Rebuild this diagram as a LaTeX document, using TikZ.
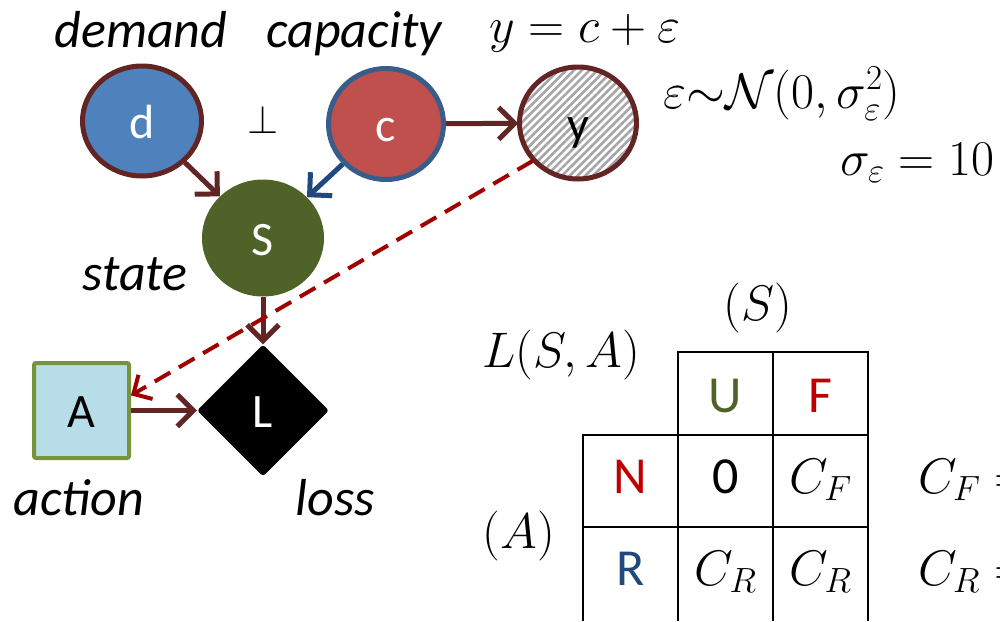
\RequirePackage{fix-cm}
\documentclass[tikz,border=0pt]{standalone}
\usepackage[no-math]{fontspec}
\setmainfont{Carlito}
\usetikzlibrary{arrows.meta,shapes.geometric,patterns.meta}
\definecolor{brn}{HTML}{632523}
\definecolor{dblue}{HTML}{4F81BD}
\definecolor{cred}{HTML}{C0504D}
\definecolor{cbord}{HTML}{385D8A}
\definecolor{sgreen}{HTML}{4F6228}
\definecolor{abox}{HTML}{B7DEE8}
\definecolor{agreen}{HTML}{77933C}
\definecolor{arrblue}{HTML}{1F497D}
\definecolor{dashred}{HTML}{A00000}
\definecolor{tred}{HTML}{C00000}
\begin{document}
\begin{tikzpicture}[x=1pt,y=-1pt,
  lab/.style={font=\fontsize{52}{60}\selectfont\itshape, anchor=base, inner sep=0},
  mth/.style={font=\fontsize{50}{60}\selectfont, anchor=base, inner sep=0},
  cell/.style={font=\fontsize{52}{60}\selectfont, anchor=base, inner sep=0},
  nodelab/.style={font=\fontsize{48}{56}\selectfont, text height=40pt, text depth=6pt, inner sep=0},
  arr/.style={line width=5pt, draw=brn, -{Straight Barb[length=16pt,width=32pt]}},
  dsh/.style={line width=4pt, draw=dashred, dash pattern=on 18pt off 10pt, -{Straight Barb[length=14pt,width=28pt]}},
  grid/.style={line width=2.5pt, draw=black},
]
\useasboundingbox (0,0) rectangle (1000,621);

% graph nodes
\node[ellipse, nodelab, draw=brn, line width=5pt, fill=dblue, text=white, minimum width=119pt, minimum height=110pt] (d) at (142,121) {d};
\node[ellipse, nodelab, draw=cbord, line width=5pt, fill=cred, text=white, minimum width=115pt, minimum height=111pt] (c) at (386,124) {c};
\node[ellipse, nodelab, draw=brn, line width=5pt, fill=white, pattern={Lines[angle=45,distance=5.5pt,line width=2.6pt]}, pattern color=gray!70, minimum width=117pt, minimum height=112pt] (y) at (578,123) {};
\node[nodelab] (ylab) at (y.center) {y};
\node[ellipse, nodelab, fill=sgreen, text=white, minimum width=122pt, minimum height=117pt] (S) at (263,238) {S};
\node[rectangle, nodelab, draw=agreen, line width=4pt, fill=abox, rounded corners=2pt, minimum width=95pt, minimum height=95pt] (A) at (81.5,410.5) {A};
\node[diamond, nodelab, fill=black, text=white, aspect=1, minimum width=132pt, minimum height=132pt, rounded corners=3pt] (L) at (263,410.5) {L};

% labels
\node[lab] (demand) at (141,47) {demand};
\node[lab] (capacity) at (354,47) {capacity};
\node[mth, font=\fontsize{40}{48}\selectfont] (perp) at (263,133) {$\perp$};
\node[lab] (state) at (135,290) {state};
\node[lab] (action) at (79,515) {action};
\node[lab] (loss) at (335,515) {loss};
\node[mth] (yeq) at (585,42) {$y = c + \varepsilon$};
\node[mth] (noise) at (782,108) {$\varepsilon{\sim}\mathcal{N}\bigl(0,\sigma_{\varepsilon}^{2}\bigr)$};
\node[mth, anchor=base west] (sig) at (840,175) {$\sigma_{\varepsilon} = 10$};

% connectors
\draw[arr] (d) -- (S);
\draw[arr, draw=arrblue] (c) -- (S);
\draw[arr] (c) -- (y);
\draw[arr] (S) -- (L);
\draw[arr] (A) -- (L);
\draw[dsh] (y.220) -- (A.17);

% loss table
\draw[grid] (678,621) -- (678,352) -- (868,352) -- (868,621);
\draw[grid] (773,352) -- (773,621);
\draw[grid] (583,621) -- (583,435) -- (868,435);
\draw[grid] (583,527) -- (868,527);

\node[mth] (LSA) at (561,367) {$L(S,A)$};
\node[mth] (Shead) at (758,320) {$(S)$};
\node[mth] (Ahead) at (519,548) {$(A)$};

\node[cell, text=sgreen] (U) at (725.5,412) {U};
\node[cell, text=tred] (F) at (820.5,412) {F};
\node[cell, text=tred] (N) at (630.5,493) {N};
\node[cell] (zero) at (725.5,493) {0};
\node[mth] (cf1) at (820.5,493) {$C_F$};
\node[cell, text=arrblue] (R) at (630.5,585) {R};
\node[mth] (cr1) at (725.5,585) {$C_R$};
\node[mth] (cr2) at (820.5,585) {$C_R$};

\node[mth, anchor=base west] (cf) at (918,493) {$C_F =$};
\node[mth, anchor=base west] (cr) at (918,585) {$C_R =$};
\end{tikzpicture}
\end{document}
